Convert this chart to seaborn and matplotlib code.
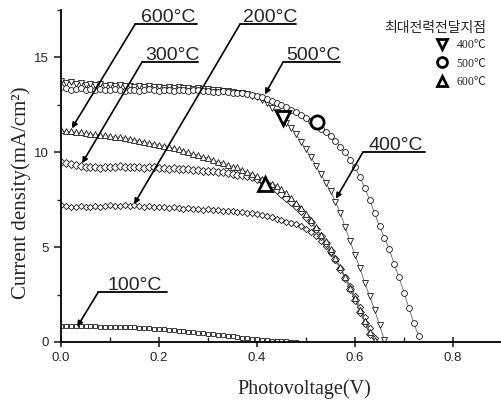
import numpy as np
import pandas as pd
import seaborn as sns
import matplotlib.pyplot as plt
from matplotlib.ticker import MultipleLocator

# J-V curves, current density (mA/cm2) at 10 mV steps from 0 V
j100 = [0.85, 0.85, 0.84, 0.84, 0.83, 0.83, 0.82, 0.82, 0.81, 0.81,
        0.80, 0.80, 0.79, 0.78, 0.78, 0.77, 0.75, 0.74, 0.72, 0.70,
        0.68, 0.66, 0.64, 0.62, 0.60, 0.57, 0.54, 0.52, 0.49, 0.46,
        0.44, 0.41, 0.38, 0.35, 0.32, 0.29, 0.26, 0.23, 0.20, 0.17,
        0.14, 0.11, 0.09, 0.07, 0.05, 0.04, 0.03, 0.02, 0.01]
j200 = [7.20, 7.15, 7.10, 7.10, 7.15, 7.10, 7.10, 7.15, 7.10, 7.15,
        7.20, 7.15, 7.15, 7.20, 7.15, 7.20, 7.15, 7.10, 7.15, 7.10,
        7.10, 7.10, 7.05, 7.10, 7.05, 7.00, 7.05, 7.00, 7.00, 6.95,
        7.00, 6.95, 6.95, 6.90, 6.90, 6.90, 6.85, 6.85, 6.80, 6.80,
        6.75, 6.70, 6.65, 6.60, 6.50, 6.45, 6.35, 6.25, 6.20, 6.10,
        5.95, 5.80, 5.60, 5.35, 5.05, 4.70, 4.30, 3.90, 3.45, 2.95,
        2.40, 1.85, 1.30, 0.75, 0.20]
j300 = [9.50, 9.45, 9.40, 9.35, 9.30, 9.25, 9.20, 9.20, 9.15, 9.20,
        9.20, 9.25, 9.30, 9.25, 9.20, 9.20, 9.20, 9.15, 9.20, 9.20,
        9.15, 9.15, 9.10, 9.15, 9.10, 9.10, 9.10, 9.05, 9.05, 9.00,
        9.00, 9.00, 8.95, 8.95, 8.90, 8.85, 8.80, 8.80, 8.75, 8.70,
        8.60, 8.50, 8.35, 8.20, 8.00, 7.80, 7.60, 7.40, 7.15, 6.90,
        6.60, 6.30, 5.95, 5.60, 5.20, 4.80, 4.35, 3.85, 3.35, 2.80,
        2.20, 1.60, 1.00, 0.40]
j400 = [13.75, 13.65, 13.70, 13.60, 13.65, 13.55, 13.60, 13.55, 13.60, 13.50,
        13.55, 13.50, 13.55, 13.50, 13.50, 13.45, 13.50, 13.45, 13.50, 13.45,
        13.45, 13.40, 13.45, 13.40, 13.45, 13.40, 13.40, 13.35, 13.40, 13.35,
        13.35, 13.30, 13.30, 13.25, 13.25, 13.20, 13.15, 13.10, 13.05, 12.95,
        12.90, 12.75, 12.60, 12.35, 12.10, 11.85, 11.55, 11.30, 10.95, 10.55,
        10.15, 9.75, 9.30, 8.85, 8.40, 7.95, 7.40, 6.80, 6.05, 5.30,
        4.60, 3.90, 3.10, 2.40, 1.70, 0.90, 0.10]
j500 = [13.45, 13.40, 13.30, 13.35, 13.40, 13.30, 13.35, 13.30, 13.35, 13.30,
        13.30, 13.35, 13.30, 13.25, 13.30, 13.30, 13.25, 13.30, 13.35, 13.30,
        13.25, 13.30, 13.30, 13.25, 13.30, 13.30, 13.25, 13.30, 13.30, 13.25,
        13.25, 13.20, 13.20, 13.25, 13.20, 13.15, 13.15, 13.10, 13.05, 13.00,
        12.95, 12.90, 12.80, 12.70, 12.60, 12.50, 12.40, 12.25, 12.10, 11.95,
        11.80, 11.65, 11.45, 11.25, 11.05, 10.85, 10.60, 10.30, 10.00, 9.60,
        9.20, 8.70, 8.10, 7.50, 6.80, 6.10, 5.50, 4.90, 4.10, 3.40,
        2.60, 1.80, 1.00, 0.30]
j600 = [11.15, 11.10, 11.10, 11.05, 11.05, 11.00, 10.95, 10.95, 10.90, 10.90,
        10.85, 10.80, 10.80, 10.75, 10.70, 10.65, 10.60, 10.55, 10.50, 10.45,
        10.40, 10.35, 10.30, 10.20, 10.15, 10.05, 10.00, 9.90, 9.85, 9.75,
        9.70, 9.60, 9.50, 9.45, 9.35, 9.25, 9.20, 9.05, 8.95, 8.85,
        8.75, 8.60, 8.45, 8.35, 8.20, 8.05, 7.85, 7.60, 7.35, 7.05,
        6.75, 6.45, 6.05, 5.65, 5.30, 4.90, 4.45, 3.95, 3.40, 2.85,
        2.30, 1.70, 1.10, 0.55, 0.10]
v_step = 0.01

series = {'100°C': j100, '200°C': j200, '300°C': j300,
          '400°C': j400, '500°C': j500, '600°C': j600}
markers = {'100°C': ('s', 3.3), '200°C': ('D', 3.2), '300°C': ('D', 4.0),
           '400°C': ('v', 4.2), '500°C': ('o', 4.2), '600°C': ('^', 4.5)}

# maximum power points
mpp_labels = ['400℃', '500℃', '600℃']
mpp_v = [0.453, 0.522, 0.416]
mpp_j = [11.8, 11.6, 8.35]
mpp_markers = ['v', 'o', '^']

# curve labels: (text, underline x0, x1, y, arrow target)
notes = [('600°C', 0.151, 0.278, 16.74, (0.022, 11.26)),
         ('300°C', 0.165, 0.280, 14.74, (0.043, 9.42)),
         ('200°C', 0.365, 0.480, 16.74, (0.149, 7.26)),
         ('500°C', 0.453, 0.569, 14.74, (0.416, 13.05)),
         ('400°C', 0.616, 0.743, 10.00, (0.561, 7.55)),
         ('100°C', 0.076, 0.216, 2.63, (0.033, 0.80))]

sns.set_style('ticks')
plt.rcParams['font.family'] = ['Liberation Sans', 'DejaVu Sans']

fig = plt.figure(figsize=(5.02, 4.0), dpi=100)
ax = fig.add_axes([61 / 502, 58 / 400, 441 / 502, 332 / 400])

for name, vals in series.items():
    df = pd.DataFrame({'V': np.arange(len(vals)) * v_step, 'J': vals})
    m, ms = markers[name]
    sns.lineplot(data=df, x='V', y='J', ax=ax, color='0.4', lw=0.6,
                 marker=m, markersize=ms, markerfacecolor='white',
                 markeredgecolor='0.1', markeredgewidth=0.6)

handles = []
for v, j, m in zip(mpp_v, mpp_j, mpp_markers):
    h, = ax.plot([v], [j], ls='none', marker=m, markersize=9.5,
                 markerfacecolor='white', markeredgecolor='black',
                 markeredgewidth=2.0, zorder=5)
    handles.append(h)

for txt, x0, x1, y, tgt in notes:
    ax.plot([x0, x1], [y, y], color='black', lw=1.3, clip_on=False, zorder=6)
    ax.text((x0 + x1) / 2 + 0.004, y + 0.12, txt, ha='center', va='baseline',
            fontsize=14, family='Liberation Sans')
    ax.annotate('', xy=tgt, xytext=(x0, y),
                arrowprops=dict(arrowstyle='-|>', color='black', lw=1.2,
                                mutation_scale=8, shrinkA=0, shrinkB=0))

leg = ax.legend(handles, mpp_labels, title='최대전력전달지점', frameon=False,
                loc='upper right', bbox_to_anchor=(492 / 502, 385 / 400),
                bbox_transform=fig.transFigure, markerscale=0.75,
                handlelength=1.0, handletextpad=0.7, labelspacing=0.55,
                borderpad=0, alignment='right',
                prop={'family': ['Liberation Serif', 'Noto Sans CJK KR'], 'size': 8.5},
                title_fontproperties={'family': 'Noto Sans CJK KR', 'size': 10})
leg._legend_box.sep = 3

ax.set_xlim(0, 0.9)
ax.set_ylim(0, 17.5)
ax.xaxis.set_major_locator(MultipleLocator(0.2))
ax.xaxis.set_minor_locator(MultipleLocator(0.1))
ax.yaxis.set_major_locator(MultipleLocator(5))
ax.yaxis.set_minor_locator(MultipleLocator(2.5))
ax.xaxis.set_major_formatter(plt.FormatStrFormatter('%.1f'))
ax.tick_params(axis='x', which='major', direction='inout', length=7, width=1.2, labelsize=9.5, pad=4)
ax.tick_params(axis='x', which='minor', direction='in', length=3.5, width=1.0)
ax.tick_params(axis='y', which='major', direction='out', length=5, width=1.2, labelsize=9.5)
ax.tick_params(axis='y', which='minor', direction='out', length=3, width=1.0)

sns.despine(ax=ax)
for s in ['left', 'bottom']:
    ax.spines[s].set_linewidth(1.3)
    ax.spines[s].set_color('black')

ax.set_xlabel('Photovoltage(V)', family='Liberation Serif', fontsize=14.5)
ax.set_ylabel('Current density(mA/cm²)', family='Liberation Serif', fontsize=15)
ax.xaxis.set_label_coords(0.551, -0.112)
ax.yaxis.set_label_coords(-0.068, 0.45)

fig.savefig('out.png', dpi=100)
